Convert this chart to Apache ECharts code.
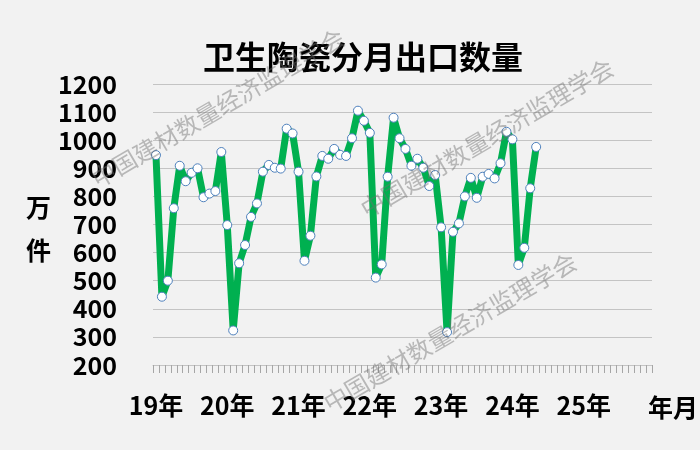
<!DOCTYPE html>
<html>
<head>
<meta charset="utf-8">
<script src="https://cdn.jsdelivr.net/npm/echarts@6/dist/echarts.min.js"></script>
<style>
html,body{margin:0;padding:0;background:#f2f2f2;}
#c{width:700px;height:450px;}
</style>
</head>
<body>
<div id="c"></div>
<script>
// Axis categories: months from 2019-01 to 2025-12
var years = ['19', '20', '21', '22', '23', '24', '25'];
var yearLabels = ['19年', '20年', '21年', '22年', '23年', '24年', '25年'];
var yTicks = [200, 300, 400, 500, 600, 700, 800, 900, 1000, 1100, 1200];

// Monthly export volume (万件)
var v2019 = [947, 443, 500, 758, 909, 854, 884, 900, 797, 810, 819, 958];
var v2020 = [698, 323, 562, 627, 727, 775, 888, 912, 902, 899, 1041, 1024];
var v2021 = [888, 571, 660, 871, 944, 934, 969, 948, 944, 1007, 1105, 1069];
var v2022 = [1026, 511, 558, 870, 1080, 1007, 969, 909, 934, 902, 837, 876];
var v2023 = [690, 317, 674, 704, 800, 866, 795, 870, 880, 864, 918, 1030];
var v2024 = [1003, 556, 617, 829, 976];

var categories = [];
years.forEach(function (y) {
  for (var m = 1; m <= 12; m++) categories.push(y + '-' + (m < 10 ? '0' + m : m));
});
var values = [].concat(v2019, v2020, v2021, v2022, v2023, v2024);

var chart = echarts.init(document.getElementById('c'));
var wmStyle = {
  fill: 'rgba(110,110,110,0.45)',
  font: '24px "Noto Sans CJK SC"',
  textAlign: 'center',
  textVerticalAlign: 'middle'
};
var wmText = '中国建材数量经济监理学会';
chart.setOption({
  backgroundColor: '#f2f2f2',
  animation: false,
  title: {
    text: '卫生陶瓷分月出口数量',
    left: 358,
    top: 36,
    textAlign: 'center',
    textStyle: {
      fontFamily: 'Noto Sans CJK SC',
      fontWeight: 'bold',
      fontSize: 32,
      color: '#000'
    }
  },
  grid: { left: 153, right: 48, top: 84, bottom: 85 },
  xAxis: {
    type: 'category',
    data: categories,
    boundaryGap: true,
    axisLine: { show: true, lineStyle: { color: '#c4c4c4', width: 1 } },
    axisTick: { show: true, interval: 0, length: 8, lineStyle: { color: '#a6a6a6' } },
    axisLabel: {
      interval: 0,
      margin: 28,
      formatter: function (val, idx) {
        return idx % 12 === 0 ? yearLabels[idx / 12] : '';
      },
      fontFamily: 'Noto Sans CJK SC',
      fontWeight: 'bold',
      fontSize: 25,
      color: '#000'
    },
    splitLine: { show: false }
  },
  yAxis: {
    type: 'value',
    min: yTicks[0],
    max: yTicks[yTicks.length - 1],
    interval: 100,
    axisLine: { show: false },
    axisTick: { show: false },
    axisLabel: {
      margin: 36,
      formatter: function (v) { return String(v); },
      fontFamily: 'Noto Sans CJK SC',
      fontWeight: 'bold',
      fontSize: 25,
      color: '#000'
    },
    splitLine: { lineStyle: { color: '#c4c4c4', width: 1 } }
  },
  series: [{
    type: 'line',
    data: values,
    lineStyle: { color: '#00b050', width: 7, join: 'round', cap: 'round' },
    symbol: 'circle',
    symbolSize: 9,
    showAllSymbol: true,
    itemStyle: { color: '#ffffff', borderColor: '#4f81bd', borderWidth: 1 },
    z: 3
  }],
  graphic: [
    { type: 'text', left: 26, top: 195, style: { text: '万', font: 'bold 25px "Noto Sans CJK SC"', fill: '#000' } },
    { type: 'text', left: 26, top: 238, style: { text: '件', font: 'bold 25px "Noto Sans CJK SC"', fill: '#000' } },
    { type: 'text', left: 648, top: 395, style: { text: '年月', font: 'bold 25px "Noto Sans CJK SC"', fill: '#000' } },
    { type: 'text', x: 218, y: 108, rotation: 0.53, silent: true, z: 10, style: Object.assign({ text: wmText }, wmStyle) },
    { type: 'text', x: 487, y: 138, rotation: 0.53, silent: true, z: 10, style: Object.assign({ text: wmText }, wmStyle) },
    { type: 'text', x: 450, y: 332, rotation: 0.53, silent: true, z: 10, style: Object.assign({ text: wmText }, wmStyle) }
  ]
});
</script>
</body>
</html>
